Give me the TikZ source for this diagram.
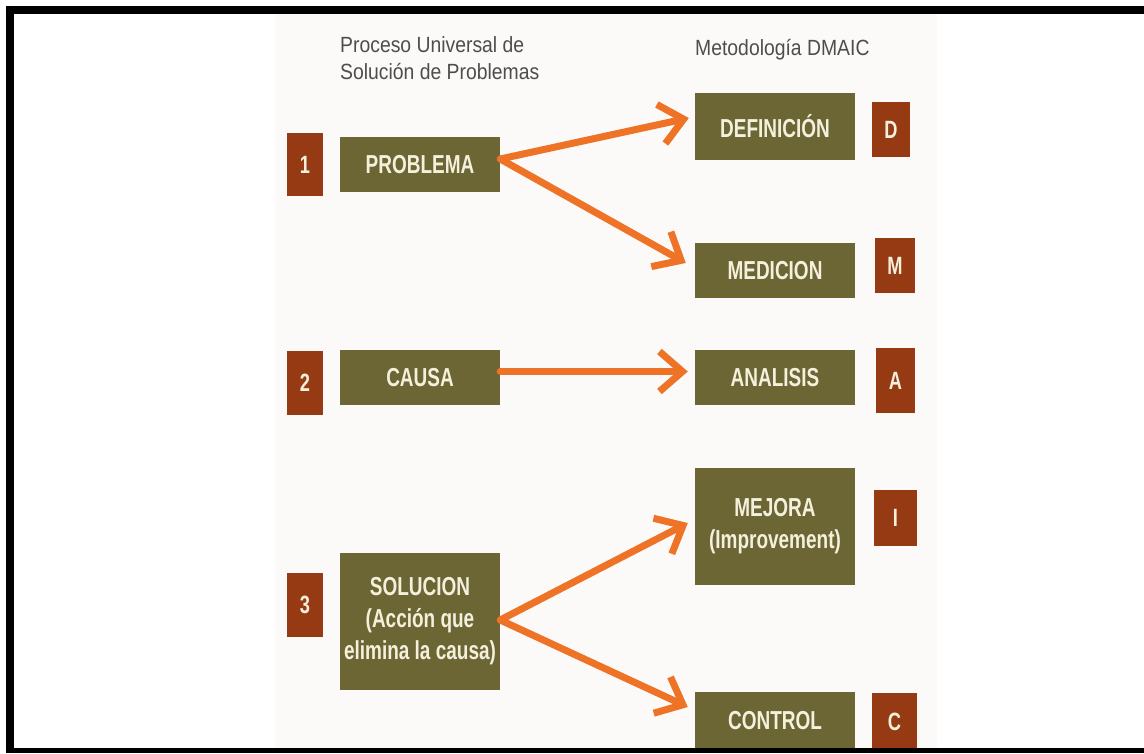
\documentclass[tikz,border=0pt]{standalone}
\usepackage{fontspec}
\usetikzlibrary{arrows.meta}
\newfontfamily\boxfont{Liberation Sans Bold}[FakeStretch=0.73]
\newfontfamily\headfont{Liberation Sans}[FakeStretch=0.88]

\definecolor{olive}{HTML}{6B6634}
\definecolor{rust}{HTML}{953A12}
\definecolor{flowor}{HTML}{EE7326}
\definecolor{cream}{HTML}{F4F0DC}
\definecolor{headgray}{HTML}{4D4D4D}
\definecolor{paper}{HTML}{FBFAF8}

\tikzset{
  stagebox/.style={fill=olive, text=cream, inner sep=0pt, align=center,
    font=\boxfont\fontsize{26}{32}\selectfont},
  tagbox/.style={fill=rust, text=cream, inner sep=0pt,
    font=\boxfont\fontsize{25}{28}\selectfont},
  headtext/.style={text=headgray, inner sep=0pt, align=left,
    font=\headfont\fontsize{22}{27}\selectfont},
  flow/.style={draw=flowor, line width=7pt, line cap=round,
    -{Straight Barb[length=23pt,width=40pt]}},
}

\begin{document}
\begin{tikzpicture}[x=1pt, y=-1pt]
\useasboundingbox (0,0) rectangle (1144,753);
\fill[white] (0,0) rectangle (1144,753);
\fill[paper] (275,14) rectangle (937,748);

% column headings
\node[headtext, anchor=north west] (hdrL) at (340,36) {Proceso Universal de\\Solución de Problemas};
\node[headtext, anchor=north west] (hdrR) at (695,39) {Metodología DMAIC};

% left column: universal problem solving process
\node[tagbox, minimum width=36, minimum height=63] (n1) at (305,164.5) {1};
\node[stagebox, minimum width=160, minimum height=55] (prob) at (420,164.5) {PROBLEMA};
\node[tagbox, minimum width=36, minimum height=64] (n2) at (305,383) {2};
\node[stagebox, minimum width=160, minimum height=55] (causa) at (420,377.5) {CAUSA};
\node[tagbox, minimum width=36, minimum height=64] (n3) at (305,605) {3};
\node[stagebox, minimum width=160, minimum height=137] (sol) at (420,621.5) {SOLUCION\\(Acción que\\elimina la causa)};

% right column: DMAIC phases
\node[stagebox, minimum width=160, minimum height=67] (def) at (775,126.5) {DEFINICIÓN};
\node[tagbox, minimum width=38, minimum height=55] (tD) at (891,129.5) {D};
\node[stagebox, minimum width=160, minimum height=55] (med) at (775,270.5) {MEDICION};
\node[tagbox, minimum width=40, minimum height=55] (tM) at (895,265.5) {M};
\node[stagebox, minimum width=160, minimum height=55] (anal) at (775,377.5) {ANALISIS};
\node[tagbox, minimum width=39, minimum height=65] (tA) at (895.5,380.5) {A};
\node[stagebox, minimum width=160, minimum height=117] (mej) at (775,526.5) {MEJORA\\(Improvement)};
\node[tagbox, minimum width=43, minimum height=56] (tI) at (895.5,518) {I};
\node[stagebox, minimum width=160, minimum height=58] (ctrl) at (775,721) {CONTROL};
\node[tagbox, minimum width=45, minimum height=57] (tC) at (894.5,721.5) {C};

% connectors
\draw[flow] ([yshift=5.5pt]prob.east) -- ([xshift=-6pt,yshift=8.5pt]def.west);
\draw[flow] ([yshift=5.5pt]prob.east) -- ([xshift=-9pt,yshift=7.5pt]med.west);
\draw[flow] ([yshift=6pt]causa.east) -- ([xshift=-7pt,yshift=6pt]anal.west);
\draw[flow] ([yshift=1.5pt]sol.east) -- ([xshift=-7pt,yshift=3.5pt]mej.west);
\draw[flow] ([yshift=1.5pt]sol.east) -- ([xshift=-7pt,yshift=14pt]ctrl.west);

% frame
\fill[black] (6,6) rectangle (14,753);
\fill[black] (6,6) rectangle (1144,14);
\fill[black] (6,748) rectangle (1144,753);
\end{tikzpicture}
\end{document}
